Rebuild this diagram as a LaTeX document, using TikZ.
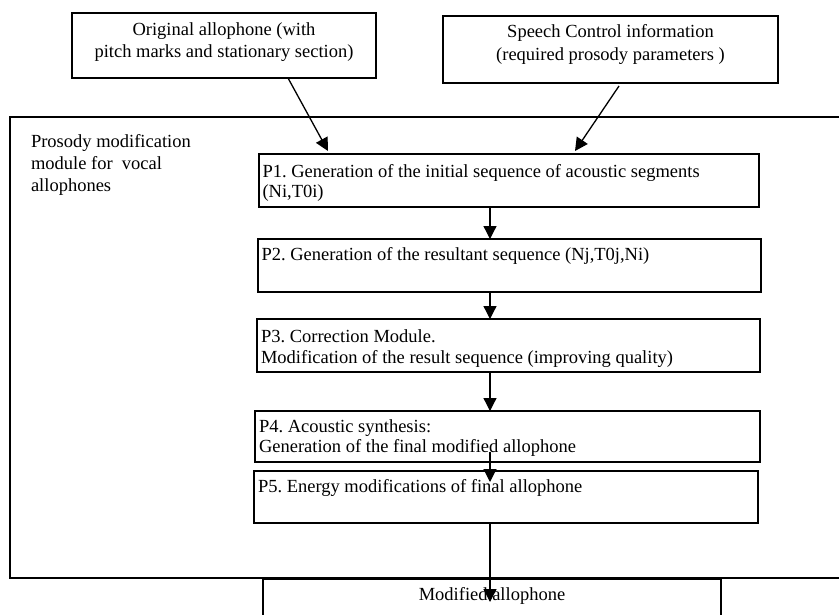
\documentclass[tikz,border=0pt]{standalone}
\usepackage{fontspec}
\setmainfont{Liberation Serif}
\usetikzlibrary{arrows.meta,calc}
\frenchspacing
\begin{document}
\begin{tikzpicture}[x=1pt,y=-1pt,
  box/.style={draw, line width=1.8pt, inner sep=0pt, outer sep=0pt, anchor=north west},
  txt/.style={inner sep=0pt, outer sep=0pt, anchor=north west, align=left, font=\fontsize{18.5}{20.5}\selectfont},
  ctxt/.style={inner sep=0pt, outer sep=0pt, anchor=north, align=center},
  arr/.style={line width=1.3pt, -{Triangle[length=13pt,width=13pt]}}]
\clip (0,0) rectangle (839,614);
\fill[white] (0,0) rectangle (839,614);
% boxes
\node[box, line width=2.2pt, minimum width=304pt, minimum height=65pt] (a) at (72,13) {};
\node[box, line width=1.9pt, minimum width=335pt, minimum height=67pt] (b) at (443,16) {};
\node[box, line width=1.7pt, minimum width=840pt, minimum height=461pt] (outer) at (10,117) {};
\node[box, minimum width=500pt, minimum height=53pt] (p1) at (259,154) {};
\node[box, minimum width=503pt, minimum height=53pt] (p2) at (258,239) {};
\node[box, minimum width=503pt, minimum height=53pt] (p3) at (257,319) {};
\node[box, minimum width=505pt, minimum height=51pt] (p4) at (255,411) {};
\node[box, minimum width=504pt, minimum height=52pt] (p5) at (254,471) {};
\node[box, line width=1.7pt, minimum width=458pt, minimum height=60pt] (m) at (263,579) {};
% texts
\node[ctxt, font=\fontsize{18.5}{22}\selectfont] (ta) at ($(a.north)+(0,9.4)$) {Original allophone (with\\pitch marks and stationary section)};
\node[ctxt, font=\fontsize{18.5}{23}\selectfont] (tb) at ($(b.north)+(0,8.4)$) {Speech Control information\\(required prosody parameters )};
\node[txt, font=\fontsize{18.5}{22}\selectfont] (tl) at (31,134.4) {Prosody modification\\module for\ \ vocal\\allophones};
\node[txt] (t1) at ($(p1.north west)+(3.5,10.4)$) {P1. Generation of the initial sequence of acoustic segments\\(Ni,T0i)};
\node[txt] (t2) at ($(p2.north west)+(3.5,8.4)$) {P2. Generation of the resultant sequence (Nj,T0j,Ni)};
\node[txt, font=\fontsize{18.5}{21}\selectfont] (t3) at ($(p3.north west)+(4,10.4)$) {P3. Correction Module.\\Modification of the result sequence (improving quality)};
\node[txt, font=\fontsize{18.5}{20}\selectfont] (t4) at ($(p4.north west)+(4,8.4)$) {P4. Acoustic synthesis:\\Generation of the final modified allophone};
\node[txt] (t5) at ($(p5.north west)+(4,8.4)$) {P5. Energy modifications of final allophone};
\node[ctxt, font=\fontsize{18.5}{20.5}\selectfont] (tm) at ($(m.north)+(0,8.4)$) {Modified allophone};
% connectors
\coordinate (ax) at (490,0);
\coordinate (aS) at ($(a.south west)+(216,0)$);
\coordinate (aE) at (328,151);
\coordinate (bS) at ($(b.south west)+(176,3)$);
\coordinate (bE) at (575,151);
\coordinate (s4) at ($(p4.south)+(0,-10)$);
\coordinate (e5) at ($(p5.north)+(0,11)$);
\coordinate (em) at ($(m.north)+(0,23)$);
\draw[arr] (aS) -- (aE);
\draw[arr] (bS) -- (bE);
\draw[arr] (p1.south -| ax) -- (p2.north -| ax);
\draw[arr] (p2.south -| ax) -- (p3.north -| ax);
\draw[arr] (p3.south -| ax) -- (p4.north -| ax);
\draw[arr] (s4 -| ax) -- (e5 -| ax);
\draw[arr] (p5.south -| ax) -- (em -| ax);
\end{tikzpicture}
\end{document}
